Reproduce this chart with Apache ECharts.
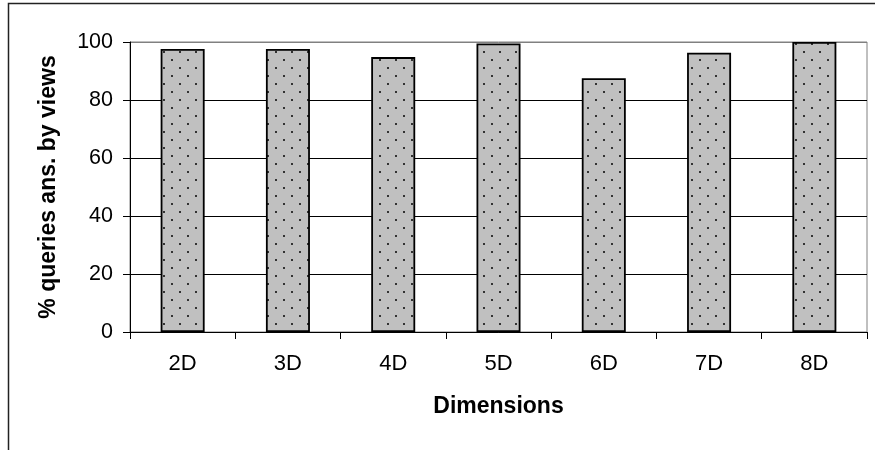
<!DOCTYPE html>
<html>
<head>
<meta charset="utf-8">
<script src="https://cdn.jsdelivr.net/npm/echarts@6/dist/echarts.min.js"></script>
<style>
html,body{margin:0;padding:0;background:#fff;}
#chart{width:875px;height:450px;}
</style>
</head>
<body>
<div id="chart"></div>
<script>
var categories = ['2D', '3D', '4D', '5D', '6D', '7D', '8D'];
var values = [97.6, 97.6, 94.8, 99.5, 87.5, 96.3, 100];
var yTicks = [0, 20, 40, 60, 80, 100];
var xAxisName = 'Dimensions';
var yAxisName = '% queries ans. by views';

function dotPattern() {
  var c = document.createElement('canvas');
  c.width = 16; c.height = 16;
  var g = c.getContext('2d');
  g.fillStyle = '#c0c0c0';
  g.fillRect(0, 0, 16, 16);
  g.fillStyle = '#333';
  g.fillRect(3, 3, 2, 2);
  g.fillRect(11, 11, 2, 2);
  return c;
}

var font = 'Arial, "Liberation Sans", sans-serif';
var chart = echarts.init(document.getElementById('chart'), null, {renderer: 'canvas'});
chart.setOption({
  animation: false,
  backgroundColor: '#fff',
  graphic: [{
    type: 'rect',
    shape: {x: 8.5, y: 3.5, width: 1000, height: 1000},
    style: {fill: 'none', stroke: '#222', lineWidth: 1.5},
    silent: true
  }],
  grid: {left: 130, right: 8, top: 42, bottom: 118, show: true, borderColor: '#808080', borderWidth: 1},
  xAxis: {
    type: 'category',
    data: categories,
    name: xAxisName,
    nameLocation: 'middle',
    nameGap: 63,
    nameTextStyle: {fontFamily: font, fontSize: 23, fontWeight: 'bold', color: '#000'},
    axisLine: {show: true, lineStyle: {color: '#000', width: 1}},
    axisTick: {show: true, length: 7, lineStyle: {color: '#000'}},
    axisLabel: {fontFamily: font, fontSize: 22, color: '#000', margin: 21}
  },
  yAxis: {
    type: 'value',
    min: 0, max: 100, interval: 20,
    name: yAxisName,
    nameLocation: 'middle',
    nameGap: 70,
    nameTextStyle: {fontFamily: font, fontSize: 23, fontWeight: 'bold', color: '#000'},
    axisLine: {show: true, lineStyle: {color: '#000', width: 1}},
    axisTick: {show: true, length: 7, lineStyle: {color: '#000'}},
    axisLabel: {fontFamily: font, fontSize: 21.5, color: '#000', margin: 17,
      formatter: function (v) { return yTicks.indexOf(v) >= 0 ? String(v) : ''; }},
    splitLine: {show: true, lineStyle: {color: ['#000', '#000', '#000', '#000', '#000', '#808080'], width: 1}}
  },
  series: [{
    type: 'bar',
    data: values,
    barWidth: 44,
    itemStyle: {
      color: {image: dotPattern(), repeat: 'repeat'},
      borderColor: '#000',
      borderWidth: 1.8
    }
  }]
});
</script>
</body>
</html>
